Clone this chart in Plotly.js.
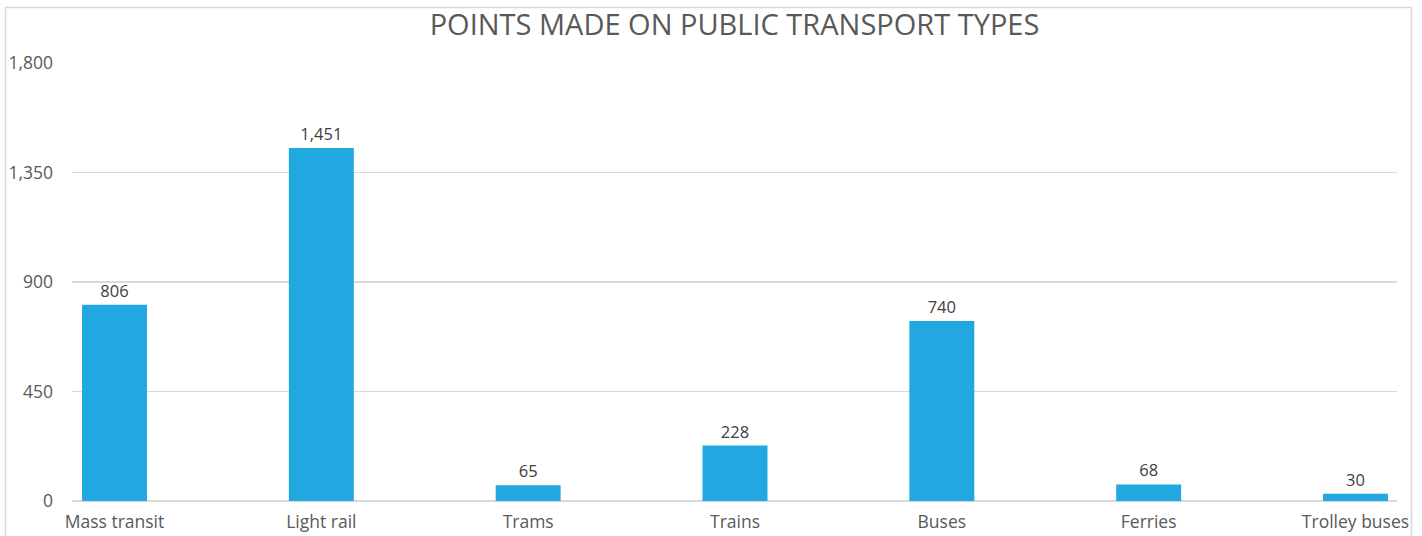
<!DOCTYPE html>
<html>
<head>
<meta charset="utf-8">
<script src="https://cdn.plot.ly/plotly-3.0.1.min.js"></script>
<style>html,body{margin:0;padding:0;background:#fff;}#chart{width:1422px;height:536px;}</style>
</head>
<body>
<div id="chart"></div>
<script>
const categories = ["Mass transit", "Light rail", "Trams", "Trains", "Buses", "Ferries", "Trolley buses"];
const points = [806, 1451, 65, 228, 740, 68, 30];
const yTicks = [0, 450, 900, 1350, 1800];
const chartTitle = "POINTS MADE ON PUBLIC TRANSPORT TYPES";

const FONT = "Open Sans, sans-serif";
const trace = {
  type: "bar",
  x: categories.map((c, i) => i),
  y: points,
  width: 0.314,
  marker: {color: "#21A8E0"},
  texttemplate: "%{y:,}",
  textposition: "outside",
  textfont: {family: FONT, size: 16.5, color: "#404040"},
  cliponaxis: false,
  hoverinfo: "x+y"
};

const layout = {
  width: 1422, height: 536,
  margin: {l: 72, r: 25, t: 62.5, b: 35, pad: 0},
  paper_bgcolor: "#fff", plot_bgcolor: "#fff",
  showlegend: false,
  separators: ".,",
  title: {text: chartTitle, x: 0.5, xref: "paper", xanchor: "center", y: 1 - 25/536, yref: "container", yanchor: "middle",
          font: {family: FONT, size: 29, color: "#595959"}},
  xaxis: {
    range: [-0.2055, 6.2007],
    tickmode: "array", tickvals: categories.map((c, i) => i), ticktext: categories,
    showgrid: false, zeroline: false, showline: false, ticks: "",
    ticklabelstandoff: 8,
    tickfont: {family: FONT, size: 17.5, color: "#595959"},
    fixedrange: true
  },
  yaxis: {
    range: [0, 1800],
    tickmode: "array", tickvals: yTicks, tickformat: ",",
    showgrid: true, gridcolor: "#d9d9d9", gridwidth: 1.5,
    zeroline: true, zerolinecolor: "#d9d9d9", zerolinewidth: 1.5,
    showline: false, ticks: "",
    ticklabelstandoff: 18,
    tickfont: {family: FONT, size: 17.5, color: "#595959"},
    fixedrange: true
  },
  shapes: [{
    type: "rect", xref: "paper", yref: "paper",
    x0: (5.5 - 72) / 1325, x1: (1411.5 - 72) / 1325,
    y0: -0.2, y1: (501 - 7) / 438.5,
    line: {color: "#d9d9d9", width: 1.5}, fillcolor: "rgba(0,0,0,0)", layer: "below"
  }]
};

Plotly.newPlot("chart", [trace], layout, {displayModeBar: false, staticPlot: true});
</script>
</body>
</html>
